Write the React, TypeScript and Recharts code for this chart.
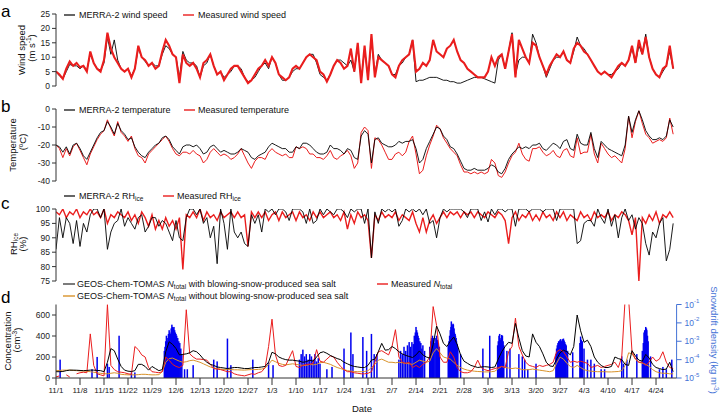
import React from 'react';
import { LineChart, Line, XAxis, YAxis, BarChart, Bar } from 'recharts';

const FONT = '"Liberation Sans", Arial, Helvetica, sans-serif';
const RED = '#ea1d1d';
const ORANGE = '#d8922a';
const BLUE_BAR = '#0000f0';
const BLUE_AX = '#4472d6';
const AX = '#333';

// ---------- panel a: wind speed (m/s), daily from 11/1 ----------
const windMerra = [
  5, 3.5, 2.5, 5, 7.5, 7, 7, 6, 7, 5.5,
  11, 8, 6, 5.5, 8, 17, 11, 16, 9, 6,
  5, 6, 3.5, 6, 13, 10, 8.5, 7, 8, 7,
  7, 11, 14, 13, 11, 10, 3, 12, 9, 8,
  8, 7, 3, 7, 8, 11, 7, 4, 5, 3,
  4, 5, 7, 7, 6, 3, 1.5, 2, 3, 5,
  7, 8, 6, 10, 8, 4, 2, 2, 3, 5,
  6, 6, 8, 10, 11, 11, 8, 4, 3, 2,
  4, 7, 9, 9, 8, 7, 9, 5, 14, 2,
  13, 3, 16, 4, 11, 9, 8, 7, 4, 4,
  7, 8, 10, 11, 16, 1.5, 2, 2, 2.5, 3,
  3, 3, 2.5, 2, 2, 1.5, 1.5, 1, 1, 1.5,
  2, 2.5, 3, 3, 3, 2.5, 2, 1.5, 1, 9,
  11, 6, 12, 18.5, 4, 9, 10, 10, 8, 18,
  15, 10, 7, 3, 6, 9, 10, 10, 12, 9,
  8, 12, 17, 14, 13, 11, 9, 7, 5, 4,
  5, 4, 4, 5, 6, 8, 7, 9, 13, 8,
  14, 11, 18, 10, 6, 4, 3, 5, 7, 12, 6,
];
const windMeas = [
  5, 4, 2.5, 6, 8.5, 7, 8, 6.5, 7, 5,
  12, 8, 6, 5, 9, 18.5, 13, 10, 8, 6,
  5, 6, 3, 6, 14, 10, 9, 7, 8, 6,
  7, 12, 16, 14, 11, 10, 1, 11, 8, 7,
  8, 6, 3, 8, 9, 11, 7, 4, 5, 2,
  4, 6, 7, 7, 5, 3, 1, 2, 4, 6,
  7, 9, 7, 10, 8, 4, 3, 2, 3, 6,
  7, 6, 8, 10, 11, 10, 9, 5, 4, 1.5,
  4, 7, 9, 8, 6, 7, 13, 5, 15, 1,
  14, 2, 18, 3, 10, 9, 8, 7, 4, 3,
  7, 9, 10, 11, 16, 5, 6, 8, 7, 9,
  16, 12, 11, 10, 13, 14, 16, 12, 9, 8,
  6, 5, 4, 3, 3, 3, 5, 10, 7, 10,
  11, 6, 12, 18, 3, 16, 13, 10, 8, 15,
  14, 10, 7, 4, 7, 9, 11, 10, 12, 9,
  8, 13, 15, 14, 12, 11, 9, 7, 5, 4,
  5, 4, 3, 5, 7, 8, 7, 9, 14, 8,
  16, 11, 17, 10, 6, 4, 3, 6, 7, 14, 6,
];

// ---------- panel b: temperature (degC) ----------
const tempMerra = [
  -20, -21, -24, -21, -25, -20, -19, -22, -26, -28,
  -24, -20, -16, -13, -12, -7, -10, -14, -8, -12,
  -14, -17, -16, -21, -24, -26, -27, -24, -22, -20,
  -19, -16, -15, -17, -21, -23, -25, -21, -20, -20,
  -21, -20, -22, -25, -24, -21, -20, -22, -24, -23,
  -24, -25, -25, -24, -22, -23, -24, -27, -28, -26,
  -25, -24, -21, -19, -20, -21, -22, -22, -24, -24,
  -21, -22, -19, -19, -20, -22, -24, -25, -25, -24,
  -20, -22, -22, -23, -25, -22, -23, -27, -28, -15,
  -12, -14, -30, -17, -16, -19, -20, -21, -21, -20,
  -18, -19, -18, -18, -17, -22, -30, -28, -22, -18,
  -14, -10, -11, -15, -17, -21, -22, -25, -29, -33,
  -34, -34, -33, -34, -34, -34, -33, -31, -32, -35,
  -36, -33, -28, -25, -23, -21, -22, -21, -22, -20,
  -20, -19, -22, -23, -21, -19, -20, -22, -18, -17,
  -22, -23, -14, -19, -20, -20, -13, -22, -27, -18,
  -20, -22, -23, -24, -25, -26, -20, -4, -13, -6,
  -1, -6, -12, -15, -17, -17, -16, -17, -15, -6, -10,
];
const tempMeas = [
  -20, -22, -27, -22, -26, -21, -19, -23, -27, -31,
  -25, -21, -17, -14, -12, -6, -11, -15, -7, -13,
  -15, -18, -15, -22, -26, -27, -30, -25, -23, -21,
  -19, -17, -15, -18, -22, -25, -26, -24, -24, -25,
  -23, -25, -26, -30, -28, -24, -22, -24, -26, -25,
  -26, -28, -27, -25, -22, -26, -30, -33, -29, -27,
  -27, -28, -24, -22, -24, -25, -26, -25, -27, -27,
  -21, -22, -21, -22, -25, -25, -27, -27, -28, -26,
  -23, -27, -28, -26, -25, -23, -26, -33, -30, -13,
  -10, -12, -33, -16, -17, -20, -24, -28, -28, -25,
  -24, -26, -24, -18, -15, -25, -36, -34, -26, -20,
  -15, -9, -11, -16, -19, -22, -24, -26, -31, -35,
  -35, -36, -35, -36, -35, -36, -35, -28, -30, -37,
  -38, -35, -30, -26, -24, -19, -25, -28, -29, -22,
  -22, -21, -24, -26, -25, -23, -26, -27, -23, -22,
  -26, -27, -16, -25, -24, -24, -14, -25, -30, -19,
  -22, -25, -27, -26, -28, -30, -22, -4, -16, -7,
  -1, -8, -14, -16, -19, -18, -17, -18, -16, -5, -14,
];

// ---------- panel c: RH_ice (%) ----------
const rhMerra = [
  86, 97, 90, 97, 95, 88, 96, 87, 95, 92,
  98, 100, 100, 97, 100, 86, 92, 95, 96, 100,
  94, 97, 95, 93, 97, 98, 92, 94, 97, 97,
  94, 96, 95, 92, 89, 96, 90, 89, 97, 100,
  100, 98, 100, 95, 97, 90, 94, 81, 100, 95,
  86, 100, 92, 90, 92, 88, 87, 98, 95, 98,
  92, 100, 99, 100, 98, 100, 100, 99, 96, 100,
  100, 100, 99, 95, 100, 95, 96, 100, 98, 100,
  99, 98, 100, 100, 99, 97, 100, 99, 100, 100,
  95, 100, 83, 99, 95, 100, 99, 100, 99, 100,
  94, 96, 100, 99, 100, 99, 100, 98, 100, 95,
  96, 90, 97, 100, 99, 100, 100, 100, 100, 99,
  97, 100, 100, 100, 96, 99, 95.5, 100, 98, 100,
  100, 99, 100, 100, 94, 100, 100, 100, 99, 100,
  100, 100, 99, 100, 100, 100, 96, 100, 100, 100,
  100, 100, 88, 89, 95, 96, 96, 94, 100, 97,
  95, 100, 94, 98, 90, 97, 100, 96, 98, 93,
  97, 95, 88, 84, 92, 90, 95, 97, 82, 86, 95,
];
const rhMeas = [
  99, 98, 100, 97, 99, 98, 100, 97, 99, 98,
  100, 98, 99, 97, 100, 95, 98, 97, 99, 98,
  97, 99, 96, 98, 95, 99, 97, 94, 98, 93,
  96, 93, 97, 94, 96, 93, 97, 79, 98, 97,
  99, 97, 100, 96, 99, 97, 98, 96, 99, 97,
  98, 99, 97, 99, 97, 98, 87, 99, 97, 99,
  97, 99, 96, 98, 99, 96, 99, 97, 98, 99,
  96, 99, 97, 98, 96, 99, 97, 99, 97, 98,
  99, 97, 98, 96, 99, 93, 98, 95, 99, 97,
  98, 96, 83, 98, 96, 99, 97, 98, 97, 99,
  96, 98, 97, 96, 99, 95, 92, 97, 92, 96,
  98, 95, 97, 99, 97, 99, 98, 99, 97, 99,
  98, 99, 97, 99, 98, 97, 99, 98, 97, 99,
  98, 96, 88, 97, 99, 96, 98, 97, 99, 96,
  98, 96, 99, 97, 98, 96, 99, 97, 99, 96,
  98, 97, 96, 99, 97, 98, 96, 99, 97, 98,
  97, 99, 96, 98, 97, 99, 98, 96, 91, 97,
  75, 97, 95, 98, 96, 99, 95, 98, 97, 99, 97,
];

// ---------- panel d: N_total (cm-3) ----------
const nWith = [
  60, 60, 62, 70, 75, 75, 74, 72, 70, 72,
  75, 75, 72, 70, 60, 150, 280, 260, 180, 110,
  75, 65, 62, 70, 130, 130, 110, 75, 110, 90,
  70, 80, 250, 345, 320, 280, 220, 225, 230, 240,
  260, 250, 220, 180, 150, 130, 120, 105, 100, 95,
  90, 95, 100, 100, 95, 90, 90, 95, 100, 100,
  105, 110, 150, 245, 230, 200, 185, 175, 170, 170,
  165, 160, 150, 155, 170, 160, 200, 240, 250, 235,
  215, 200, 185, 175, 150, 135, 120, 110, 105, 100,
  100, 120, 170, 180, 250, 330, 265, 270, 300, 280,
  250, 230, 215, 205, 195, 220, 258, 220, 200, 190,
  320, 495, 420, 330, 300, 350, 390, 320, 220, 160,
  140, 120, 110, 100, 105, 108, 105, 100, 105, 180,
  250, 300, 340, 330, 520, 380, 260, 210, 200, 420,
  340, 300, 230, 150, 115, 110, 180, 240, 265, 250,
  220, 300, 600, 450, 340, 360, 300, 200, 150, 120,
  100, 100, 110, 200, 185, 175, 130, 120, 260, 210,
  170, 160, 225, 190, 130, 100, 90, 80, 85, 150, 60,
];
const nWithout = [
  70, 72, 75, 75, 75, 72, 70, 68, 66, 64,
  60, 55, 50, 45, 40, 40, 45, 50, 45, 35,
  32, 30, 30, 30, 32, 35, 35, 32, 30, 30,
  32, 60, 150, 185, 190, 175, 160, 150, 155, 165,
  170, 160, 150, 135, 120, 105, 95, 90, 85, 80,
  80, 80, 78, 78, 76, 75, 78, 80, 80, 82,
  85, 95, 130, 170, 155, 140, 130, 125, 130, 135,
  130, 125, 120, 120, 130, 125, 130, 145, 150, 140,
  130, 115, 100, 90, 80, 70, 65, 62, 60, 60,
  62, 70, 100, 130, 170, 180, 165, 150, 150, 145,
  150, 145, 140, 135, 130, 150, 170, 160, 150, 160,
  240, 280, 240, 200, 190, 180, 150, 120, 100, 85,
  75, 70, 65, 62, 60, 58, 58, 60, 65, 90,
  110, 100, 95, 90, 95, 90, 80, 78, 80, 85,
  80, 75, 70, 65, 60, 70, 140, 200, 180, 140,
  110, 100, 120, 100, 80, 70, 65, 62, 60, 60,
  60, 58, 58, 60, 62, 70, 120, 240, 230, 180,
  150, 140, 130, 110, 80, 60, 50, 45, 45, 40, 40,
];
const nMeas = [
  10, 20, null, 30, 10, null, 40, 50, 55, 50,
  420, 120, 40, 30, 20, 700, 120, 80, 60, 55,
  50, 40, 35, 300, 270, 220, 200, 100, 60, 55,
  50, 60, 200, 170, 130, 110, 100, 120, 650, 230,
  200, 180, 180, 175, 170, 130, 90, 85, 80, 70,
  60, 60, 40, 30, 25, 20, 30, 40, 35, 50,
  60, 100, 300, 560, 220, 120, 110, 120, 190, 260,
  110, 100, 120, 130, 130, 140, 270, 160, 150, 180,
  210, 200, 150, 110, 80, 60, 60, 50, 45, 40,
  40, 45, 60, 150, 250, 260, 240, 220, 300, 460,
  200, 150, 140, 150, 100, 120, 100, 130, 150, 200,
  680, 500, 200, 150, 150, 250, 200, 100, 60, 50,
  50, 60, 100, 170, 100, 80, 70, 80, 90, 100,
  110, 100, 250, 300, 570, 300, 220, 150, 120, 110,
  100, 120, 110, 120, 130, 150, 250, 270, 250, 200,
  150, 160, 150, 160, 150, 140, 100, 110, 120, 100,
  110, 120, 130, 150, 100, 200, 760, 760, 250, 180,
  150, 150, 120, 150, 200, 160, 180, 250, 150, 100, 90,
];

// snowdrift density (kg m-3), sparse events: day offset and value
const driftDays = [
  1.2, 10.5, 12, 15, 15.5, 18.4, 22, 23,
  31.6, 31.8, 32, 32.2, 32.4, 32.6, 32.8, 33, 33.2, 33.4, 33.6, 33.8, 34, 34.2, 34.4, 34.6, 34.8, 35, 35.2, 35.5, 35.8, 36.1, 36.4, 36.7,
  37.5, 38.3, 40, 46, 47, 50, 51, 57.4, 62, 63.3,
  71, 71.5, 72, 72.5, 73, 73.5, 74, 74.5, 75, 75.5, 76, 76.5, 77,
  79, 80.5, 84, 86, 86.6, 89.5, 90.6, 92, 92.8, 93.6,
  100, 100.5, 101, 101.5, 102, 102.5, 103, 103.4, 103.8, 104.2, 104.5, 104.8, 105, 105.2, 105.4, 105.6, 105.8, 106.1, 106.4, 106.7, 107, 107.5,
  109, 109.3, 109.6, 109.8, 110, 110.2, 110.5, 110.8, 111, 111.2, 111.5, 111.8,
  114.4, 114.6, 114.8, 115, 115.2, 115.3, 115.5, 115.6, 115.8, 115.9, 116.1, 116.2, 116.4, 116.5, 116.7, 116.8, 117, 117.2, 118,
  124.5, 126.5, 128.8, 129, 129.2, 129.4, 129.6, 129.8, 130, 130.2, 130.4, 130.6, 131.5, 132.4,
  135, 136, 136.7, 137.6, 140,
  145.8, 146, 146.2, 146.4, 146.6, 146.8, 147, 147.2, 147.4, 147.6, 147.8, 148, 148.2, 148.4, 148.6, 148.8, 149.2, 150.7,
  152.8, 153, 153.2, 153.5, 154, 155, 156, 157, 159, 160,
  165, 165.5, 166.5, 169.4, 171, 171.3, 171.5, 171.7, 172, 172.2, 172.3, 172.5, 172.7, 173.4,
  176, 177, 178, 179.6,
];
const driftVals = [
  1e-4, 3e-5, 1.4e-4, 6e-5, 4e-5, 2e-3, 2e-5, 2e-5,
  3e-4, 5e-4, 1e-3, 2e-3, 1.5e-3, 1e-3, 2.5e-3, 4e-3, 3e-3, 2.5e-3, 5e-3, 8e-3, 6e-3, 5e-3, 6e-3, 4e-3, 3e-3, 2.5e-3, 2e-3, 1.5e-3, 1e-3, 8e-4, 4e-4, 2e-4,
  3e-5, 3e-5, 5e-5, 1e-4, 8e-5, 1.4e-3, 5e-5, 1e-4, 7e-5, 5e-5,
  1e-4, 2e-4, 3.5e-4, 1.5e-4, 2e-4, 1e-4, 2e-4, 1.5e-4, 1e-4, 2e-4, 8e-5, 1.2e-4, 6e-5,
  3e-5, 4e-5, 4e-4, 3e-3, 2e-4, 1.7e-3, 3e-4, 2.5e-3, 2e-4, 2e-4,
  1e-4, 3e-4, 2e-4, 5e-4, 3e-4, 6e-4, 9e-4, 5e-4, 9e-4, 7e-4, 2e-3, 3e-3, 6e-3, 4e-3, 3e-3, 2e-3, 1.5e-3, 1e-3, 8e-4, 4e-4, 6e-4, 3e-4,
  5e-4, 1e-3, 1.5e-3, 2e-3, 1.2e-3, 1.5e-3, 8e-4, 1.5e-3, 2e-3, 1.2e-3, 8e-4, 5e-4,
  6e-4, 1e-3, 2e-3, 4e-3, 6e-3, 1.2e-2, 8e-3, 6e-3, 9e-3, 8e-3, 5e-3, 3e-3, 2.5e-3, 2e-3, 1.5e-3, 1e-3, 7e-4, 4e-4, 2e-4,
  4e-4, 2e-3, 6e-4, 1e-3, 2e-3, 2.5e-3, 1.2e-3, 1.5e-3, 2.2e-3, 2e-3, 1e-3, 6e-4, 3e-4, 4e-4,
  2e-4, 1.5e-4, 1e-4, 3e-5, 6e-5,
  2e-4, 4e-4, 6e-4, 8e-4, 1e-3, 1e-3, 1.2e-3, 1.3e-3, 1e-3, 1.1e-3, 1.3e-3, 1.4e-3, 1.1e-3, 9e-4, 7e-4, 6e-4, 3e-4, 2.5e-4,
  8e-4, 1.8e-3, 1.2e-3, 1e-3, 4e-4, 1e-4, 1e-4, 6e-5, 3e-5, 3e-5,
  1.5e-4, 6e-5, 1e-4, 2e-4, 3e-4, 8e-4, 3e-3, 4e-3, 6e-3, 5e-3, 4e-3, 2e-3, 1e-3, 1.5e-4,
  3e-5, 4e-5, 3e-5, 1e-4,
];

const dateTicks = [0, 7, 14, 21, 28, 35, 42, 49, 56, 63, 70, 77, 84, 91, 98, 105, 112, 119, 126, 133, 140, 147, 154, 161, 168, 175];
const dateLabels = ['11/1', '11/8', '11/15', '11/22', '11/29', '12/6', '12/13', '12/20', '12/27', '1/3', '1/10', '1/17', '1/24', '1/31', '2/7', '2/14', '2/21', '2/28', '3/6', '3/13', '3/20', '3/27', '4/3', '4/10', '4/17', '4/24'];

const dayIdx = windMerra.map((_, i) => i);
const windData = dayIdx.map((i) => ({ day: i, merra: windMerra[i], meas: windMeas[i] }));
const tempData = dayIdx.map((i) => ({ day: i, merra: tempMerra[i], meas: tempMeas[i] }));
const rhData = dayIdx.map((i) => ({ day: i, merra: rhMerra[i], meas: rhMeas[i] }));
const nData = dayIdx.map((i) => ({ day: i, withSS: nWith[i], withoutSS: nWithout[i], meas: nMeas[i] }));
const driftData = driftDays.map((d, i) => ({ day: d, drift: driftVals[i] }));

const W = 722;
const M_LEFT = 26;
const Y_W = 30;
const M_RIGHT = 45.4;
const X_DOMAIN: [number, number] = [0, 181];
const tickStyle = { fontSize: 8.5, fill: '#222', fontFamily: FONT };
const SPIKE_W = 1.5;

const PowTick = (props: any) => {
  const { x, y, payload } = props;
  const exp = Math.round(Math.log10(payload.value));
  return (
    <text x={x} y={y} fill={BLUE_AX} fontSize={8.5} fontFamily={FONT} dominantBaseline="central" textAnchor="start">
      <tspan>10</tspan>
      <tspan dy={-3.5} fontSize={6}>{String(exp)}</tspan>
    </text>
  );
};

// fixed-width spike drawn at the bar's centre (avoids automatic bar shrinking)
const SpikeShape = (props: any) => {
  const { x, y, width, height } = props;
  if (x == null || y == null || !isFinite(height)) return null;
  const cx = x + width / 2;
  return <rect x={cx - SPIKE_W / 2} y={y} width={SPIKE_W} height={Math.max(0, height)} fill={BLUE_BAR} />;
};

function SimplePanel(props: { top: number; data: any[]; domain: [number, number]; ticks: number[]; redOnTop: boolean; redWidth: number }) {
  const { top, data, domain, ticks, redOnTop, redWidth } = props;
  const black = <Line key="b" dataKey="merra" stroke="#000" strokeWidth={0.9} dot={false} isAnimationActive={false} />;
  const red = <Line key="r" dataKey="meas" stroke={RED} strokeWidth={redWidth} dot={false} isAnimationActive={false} />;
  return (
    <div style={{ position: 'absolute', left: 0, top }}>
      <LineChart width={W} height={100} data={data} margin={{ top: 14, right: M_RIGHT, bottom: 14, left: M_LEFT }}>
        <XAxis dataKey="day" type="number" domain={X_DOMAIN} hide allowDataOverflow />
        <YAxis
          width={Y_W}
          domain={domain}
          ticks={ticks}
          interval={0}
          allowDataOverflow
          tick={tickStyle}
          tickSize={4}
          tickMargin={2}
          axisLine={{ stroke: AX }}
          tickLine={{ stroke: AX }}
        />
        {redOnTop ? [black, red] : [red, black]}
      </LineChart>
    </div>
  );
}

export default function App() {
  return (
    <div style={{ position: 'absolute', left: 0, top: 0, width: W, height: 416, background: '#fff', fontFamily: FONT }}>
      <SimplePanel top={0} data={windData} domain={[0, 25]} ticks={[0, 5, 10, 15, 20, 25]} redOnTop={true} redWidth={2.1} />
      <SimplePanel top={95} data={tempData} domain={[-40, 0]} ticks={[-40, -30, -20, -10, 0]} redOnTop={false} redWidth={1} />
      <SimplePanel top={195} data={rhData} domain={[75, 100]} ticks={[75, 80, 85, 90, 95, 100]} redOnTop={false} redWidth={1.4} />

      {/* panel d: snowdrift bars (right log axis) */}
      <div style={{ position: 'absolute', left: 0, top: 290 }}>
        <BarChart width={W} height={126} data={driftData} margin={{ top: 14.5, right: M_RIGHT - 40, bottom: 38, left: M_LEFT + Y_W }}>
          <XAxis dataKey="day" type="number" domain={X_DOMAIN} hide allowDataOverflow />
          <YAxis
            yAxisId="r"
            orientation="right"
            width={40}
            scale="log"
            domain={[1e-5, 1e-1]}
            ticks={[1e-5, 1e-4, 1e-3, 1e-2, 1e-1]}
            interval={0}
            allowDataOverflow
            tick={<PowTick />}
            tickSize={5}
            tickMargin={3}
            axisLine={{ stroke: BLUE_AX }}
            tickLine={{ stroke: BLUE_AX }}
          />
          <Bar yAxisId="r" dataKey="drift" fill={BLUE_BAR} shape={<SpikeShape />} isAnimationActive={false} />
        </BarChart>
      </div>
      {/* panel d: N_total lines */}
      <div style={{ position: 'absolute', left: 0, top: 290 }}>
        <LineChart width={W} height={126} data={nData} margin={{ top: 14.5, right: M_RIGHT, bottom: 18, left: M_LEFT }}>
          <XAxis
            dataKey="day"
            type="number"
            domain={X_DOMAIN}
            ticks={dateTicks}
            interval={0}
            allowDataOverflow
            height={20}
            tickSize={7}
            tickMargin={2}
            tickFormatter={(v: number) => dateLabels[dateTicks.indexOf(v)]}
            tick={{ fontSize: 8, fill: '#222', fontFamily: FONT }}
            axisLine={{ stroke: AX }}
            tickLine={{ stroke: AX }}
          />
          <YAxis
            width={Y_W}
            domain={[0, 700]}
            ticks={[0, 200, 400, 600]}
            interval={0}
            allowDataOverflow
            tick={tickStyle}
            tickSize={4}
            tickMargin={2}
            axisLine={{ stroke: AX }}
            tickLine={{ stroke: AX }}
          />
          <Line dataKey="withoutSS" stroke={ORANGE} strokeWidth={1} dot={false} isAnimationActive={false} />
          <Line dataKey="meas" stroke={RED} strokeWidth={1} dot={false} isAnimationActive={false} />
          <Line dataKey="withSS" stroke="#000" strokeWidth={1} dot={false} isAnimationActive={false} />
        </LineChart>
      </div>

      {/* annotations */}
      <svg width={W} height={416} style={{ position: 'absolute', left: 0, top: 0, pointerEvents: 'none' }} fontFamily={FONT}>
        <g fontSize={17} fill="#000">
          <text x={1} y={17}>a</text>
          <text x={1} y={112}>b</text>
          <text x={1} y={209}>c</text>
          <text x={1} y={303}>d</text>
        </g>
        <g fontSize={9} fill="#111">
          {/* legend a */}
          <line x1={64} x2={75} y1={15} y2={15} stroke="#000" strokeWidth={1.2} />
          <text x={79} y={15} dominantBaseline="central">MERRA-2 wind speed</text>
          <line x1={183} x2={194} y1={15} y2={15} stroke={RED} strokeWidth={1.4} />
          <text x={198} y={15} dominantBaseline="central">Measured wind speed</text>
          {/* legend b */}
          <line x1={64} x2={75} y1={110} y2={110} stroke="#000" strokeWidth={1.2} />
          <text x={79} y={110} dominantBaseline="central">MERRA-2 temperature</text>
          <line x1={184} x2={195} y1={110} y2={110} stroke={RED} strokeWidth={1.4} />
          <text x={198} y={110} dominantBaseline="central">Measured temperature</text>
          {/* legend c */}
          <line x1={64} x2={75} y1={196} y2={196} stroke="#000" strokeWidth={1.2} />
          <text x={79} y={196} dominantBaseline="central">
            MERRA-2 RH<tspan fontSize={6.5} dy={2}>ice</tspan>
          </text>
          <line x1={163} x2={174} y1={196} y2={196} stroke={RED} strokeWidth={1.4} />
          <text x={177} y={196} dominantBaseline="central">
            Measured RH<tspan fontSize={6.5} dy={2}>ice</tspan>
          </text>
          {/* legend d */}
          <line x1={63} x2={75} y1={284} y2={284} stroke="#444" strokeWidth={1.4} />
          <text x={77} y={284} dominantBaseline="central">
            GEOS-Chem-TOMAS <tspan fontStyle="italic">N</tspan>
            <tspan fontSize={6.5} dy={2}>total</tspan>
            <tspan dy={-2}> with blowing-snow-produced sea salt</tspan>
          </text>
          <line x1={377} x2={388} y1={284} y2={284} stroke={RED} strokeWidth={1.4} />
          <text x={391} y={284} dominantBaseline="central">
            Measured <tspan fontStyle="italic">N</tspan>
            <tspan fontSize={6.5} dy={2}>total</tspan>
          </text>
          <line x1={63} x2={75} y1={296} y2={296} stroke={ORANGE} strokeWidth={1.4} />
          <text x={77} y={296} dominantBaseline="central">
            GEOS-Chem-TOMAS <tspan fontStyle="italic">N</tspan>
            <tspan fontSize={6.5} dy={2}>total</tspan>
            <tspan dy={-2}> without blowing-snow-produced sea salt</tspan>
          </text>
        </g>
        {/* axis titles */}
        <g fontSize={9.5} fill="#111" textAnchor="middle">
          <text x={21.5} y={50} transform="rotate(-90 21.5 50)" dominantBaseline="central">Wind speed</text>
          <text x={31} y={48} transform="rotate(-90 31 48)" dominantBaseline="central">
            (m s<tspan fontSize={6.5} dy={-3}>-1</tspan><tspan dy={3}>)</tspan>
          </text>
          <text x={12} y={145} transform="rotate(-90 12 145)" dominantBaseline="central">Temperature</text>
          <text x={22} y={142} transform="rotate(-90 22 142)" dominantBaseline="central">(ºC)</text>
          <text x={13} y={244} transform="rotate(-90 13 244)" dominantBaseline="central">
            RH<tspan fontSize={6.5} dy={2}>ice</tspan>
          </text>
          <text x={22.5} y={244} transform="rotate(-90 22.5 244)" dominantBaseline="central">(%)</text>
          <text x={7} y={341} transform="rotate(-90 7 341)" dominantBaseline="central">Concentration</text>
          <text x={16.5} y={340} transform="rotate(-90 16.5 340)" dominantBaseline="central">
            (cm<tspan fontSize={6.5} dy={-3}>-3</tspan><tspan dy={3}>)</tspan>
          </text>
          <text x={362} y={408} dominantBaseline="central">Date</text>
          <text x={714} y={340} transform="rotate(90 714 340)" dominantBaseline="central" fill={BLUE_AX}>
            Snowdrift density (kg m<tspan fontSize={6.5} dy={-3}>-3</tspan><tspan dy={3}>)</tspan>
          </text>
        </g>
      </svg>
    </div>
  );
}
